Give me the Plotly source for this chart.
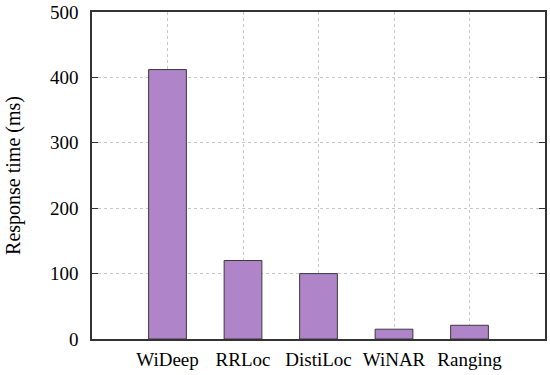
import plotly.graph_objects as go

methods = ["WiDeep", "RRLoc", "DistiLoc", "WiNAR", "Ranging"]
response_ms = [412, 120, 100, 15, 21]
y_ticks = [0, 100, 200, 300, 400, 500]

fig = go.Figure()
fig.add_trace(go.Bar(
    x=list(range(len(methods))), y=response_ms, width=0.5,
    marker=dict(color="#b084c9", line=dict(color="#3a3a3a", width=1)),
))

font = "Liberation Serif, Times New Roman, serif"
fig.update_layout(
    width=550, height=375,
    margin=dict(l=92, r=5, t=12, b=36),
    plot_bgcolor="white", paper_bgcolor="white",
    showlegend=False,
    font=dict(family=font, size=19, color="black"),
    xaxis=dict(
        range=[-1, 5], tickmode="array",
        tickvals=list(range(len(methods))), ticktext=methods,
        showgrid=True, gridcolor="#c8c8c8", griddash="dot", gridwidth=1,
        showline=True, linecolor="#333", linewidth=1.5, mirror=True,
        ticks="", zeroline=False, tickfont=dict(size=19),
        ticklabelstandoff=2, automargin=False,
    ),
    yaxis=dict(
        range=[0, 500], tickmode="array", tickvals=y_ticks,
        showgrid=True, gridcolor="#c8c8c8", griddash="dot", gridwidth=1,
        showline=True, linecolor="#333", linewidth=1.5, mirror="allticks",
        ticks="inside", ticklen=6, tickcolor="#333",
        zeroline=False, tickfont=dict(size=19),
        ticklabelstandoff=8, ticklabeloverflow="allow", automargin=False,
        title=dict(text="Response time (ms)", font=dict(size=20), standoff=24),
    ),
)
fig.write_html("out.html", config={"displayModeBar": False},
               post_script="document.body.style.margin='0';")
